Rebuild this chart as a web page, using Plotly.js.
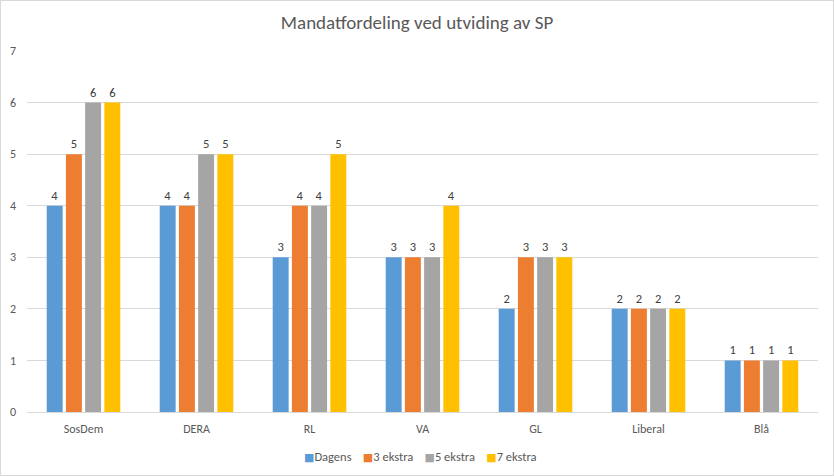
<!DOCTYPE html>
<html>
<head>
<meta charset="utf-8">
<script src="https://cdn.plot.ly/plotly-3.0.1.min.js"></script>
<style>
html,body{margin:0;padding:0;background:#fff;}
#chart{width:834px;height:476px;box-sizing:border-box;border:1px solid #d9d9d9;}
</style>
</head>
<body>
<div id="chart"></div>
<script>
const categories = ["SosDem", "DERA", "RL", "VA", "GL", "Liberal", "Blå"];
const seriesNames = ["Dagens", "3 ekstra", "5 ekstra", "7 ekstra"];
const dagens = [4, 4, 3, 3, 2, 2, 1];
const ekstra3 = [5, 4, 4, 3, 3, 2, 1];
const ekstra5 = [6, 5, 4, 3, 3, 2, 1];
const ekstra7 = [6, 5, 5, 4, 3, 2, 1];
const colors = ["#5b9bd5", "#ed7d31", "#a5a5a5", "#ffc000"];
const values = [dagens, ekstra3, ekstra5, ekstra7];

const font = "Carlito, 'Liberation Sans Narrow', Lato, sans-serif";

const traces = values.map((v, i) => ({
  type: "bar",
  name: seriesNames[i],
  x: categories,
  y: v,
  marker: {color: colors[i]},
  text: v.map(String),
  textposition: "outside",
  textfont: {family: font, size: 12.5, color: "#404040"},
  cliponaxis: false,
  hoverinfo: "x+y+name",
  showlegend: false
}));

// Compact Excel-style legend built from the series names and colours
const legendText = seriesNames.map((n, i) =>
  "<span style='color:" + colors[i] + ";font-family:DejaVu Sans;font-size:11px'>■</span>" + n
).join("&nbsp;&nbsp;&nbsp;&nbsp;");

const layout = {
  width: 832,
  height: 474,
  margin: {l: 26, r: 15, t: 50, b: 63},
  paper_bgcolor: "#ffffff",
  plot_bgcolor: "#ffffff",
  font: {family: font, color: "#595959", size: 12},
  title: {
    text: "Mandatfordeling ved utviding av SP",
    font: {family: font, size: 19, color: "#595959"},
    x: 0.5, xanchor: "center", y: 0.955, yanchor: "middle"
  },
  barmode: "group",
  bargap: 0.32,
  bargroupgap: 0.17,
  xaxis: {
    type: "category",
    showgrid: false,
    showline: true,
    linecolor: "#d9d9d9",
    linewidth: 1,
    ticks: "",
    ticklabelstandoff: 6,
    tickfont: {family: font, size: 12, color: "#595959"},
    fixedrange: true
  },
  yaxis: {
    range: [0, 7],
    dtick: 1,
    showgrid: true,
    gridcolor: "#d9d9d9",
    zeroline: false,
    showline: false,
    ticks: "",
    ticklabelstandoff: 10,
    tickfont: {family: font, size: 12, color: "#595959"},
    fixedrange: true
  },
  annotations: [{
    xref: "paper", yref: "paper",
    x: 0.497, y: -0.122,
    xanchor: "center", yanchor: "middle",
    showarrow: false,
    text: legendText,
    font: {family: font, size: 12.5, color: "#595959"}
  }],
  showlegend: false
};

Plotly.newPlot("chart", traces, layout, {displayModeBar: false, staticPlot: true});
</script>
</body>
</html>
